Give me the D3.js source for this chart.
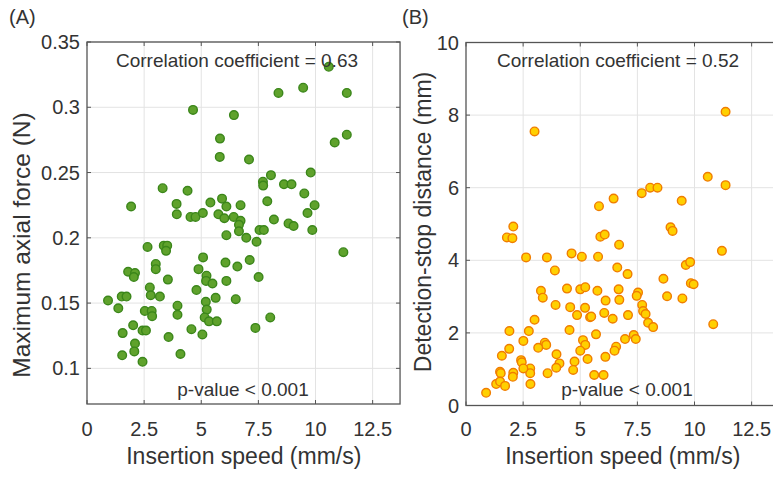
<!DOCTYPE html>
<html lang="en">
<head>
    <meta charset="UTF-8">
    <title>Insertion speed scatter</title>
    <script src="https://d3js.org/d3.v7.min.js"></script>
    <style>
        body { margin: 0; background: #fff; }
        text { font-family: "Liberation Sans", Arial, Helvetica, sans-serif; fill: #333; }
    </style>
</head>
<body>
    <svg id="chart" width="773" height="479"></svg>
    <script>
        // Panel A: insertion speed (mm/s) vs maximum axial force (N)
        var speedA = [10.58, 8.38, 9.46, 11.37, 4.64, 6.43, 5.82, 11.37, 10.84, 5.81, 7.09, 8.05, 9.79, 7.70, 7.71,
            3.31, 4.40, 8.62, 8.95, 9.51, 5.91, 7.89, 1.93, 3.92, 3.93, 4.53, 4.75, 5.07, 5.40, 5.75, 6.01, 6.10,
            6.42, 6.72, 6.72, 6.65, 6.65, 6.10, 6.97, 7.42, 7.55, 7.74, 8.18, 8.82, 9.04, 9.86, 9.65, 9.96, 11.22,
            2.65, 3.36, 3.51, 3.46, 5.08, 6.06, 6.58, 7.12, 3.01, 3.01, 1.80, 2.10, 2.05, 4.88, 5.23, 5.21, 5.49,
            3.54, 6.10, 7.51, 4.79, 2.75, 2.79, 3.19, 1.52, 1.73, 0.92, 1.37, 2.53, 2.83, 2.85, 3.96, 3.96, 5.20,
            5.24, 5.15, 5.34, 5.68, 5.63, 6.51, 8.02, 2.02, 2.43, 2.58, 1.56, 4.57, 5.05, 3.57, 7.37, 2.10, 2.07,
            1.54, 2.43, 4.09];
        var forceA = [0.331, 0.311, 0.315, 0.311, 0.298, 0.294, 0.276, 0.279, 0.273, 0.262, 0.260, 0.248, 0.250, 0.243, 0.240,
            0.238, 0.236, 0.241, 0.241, 0.234, 0.230, 0.228, 0.224, 0.226, 0.218, 0.216, 0.216, 0.219, 0.227, 0.218, 0.215, 0.224,
            0.216, 0.225, 0.213, 0.210, 0.205, 0.202, 0.200, 0.197, 0.206, 0.206, 0.214, 0.211, 0.209, 0.206, 0.219, 0.225, 0.189,
            0.193, 0.194, 0.194, 0.190, 0.185, 0.181, 0.178, 0.183, 0.180, 0.176, 0.174, 0.173, 0.170, 0.176, 0.171, 0.167, 0.165,
            0.168, 0.167, 0.170, 0.160, 0.162, 0.156, 0.155, 0.155, 0.155, 0.152, 0.146, 0.144, 0.144, 0.140, 0.148, 0.141, 0.151,
            0.145, 0.139, 0.136, 0.136, 0.154, 0.153, 0.139, 0.133, 0.129, 0.129, 0.127, 0.130, 0.126, 0.124, 0.131, 0.119, 0.113,
            0.110, 0.105, 0.111];

        // Panel B: insertion speed (mm/s) vs detection-stop distance (mm)
        var speedB = [3.00, 11.36, 10.58, 11.36, 7.69, 8.06, 8.38, 9.44, 6.46, 5.82, 2.07, 8.95, 9.04, 1.79, 2.03, 5.88,
            6.07, 6.70, 11.20, 2.63, 3.54, 4.62, 5.07, 5.78, 3.89, 6.62, 7.07, 9.62, 9.81, 8.64, 9.84, 9.96, 3.28,
            3.36, 4.42, 5.00, 5.22, 5.75, 6.68, 6.71, 7.53, 7.47, 8.80, 9.47, 6.11, 3.92, 4.56, 5.21, 6.05, 7.71,
            7.75, 7.86, 4.86, 5.43, 5.48, 6.42, 7.09, 7.97, 8.19, 10.82, 3.00, 1.90, 2.75, 4.53, 5.69, 7.34, 7.43,
            6.96, 2.51, 5.12, 5.22, 3.45, 3.51, 1.89, 3.16, 5.00, 6.57, 6.50, 1.57, 3.96, 2.41, 2.44, 4.09, 6.10,
            4.75, 5.32, 1.49, 1.52, 2.07, 2.05, 2.81, 2.81, 2.51, 3.95, 4.69, 3.57, 1.32, 1.49, 1.71, 2.82, 5.61,
            6.02, 0.88];
        var distB = [7.55, 8.09, 6.30, 6.07, 5.85, 6.00, 6.00, 5.64, 5.70, 5.49, 4.93, 4.91, 4.81, 4.63, 4.61, 4.65,
            4.71, 4.43, 4.26, 4.08, 4.08, 4.19, 4.10, 4.10, 3.72, 3.80, 3.62, 3.87, 3.95, 3.49, 3.37, 3.34, 3.16,
            2.97, 3.22, 3.20, 3.26, 3.16, 3.20, 2.91, 3.11, 3.02, 3.01, 2.95, 2.89, 2.77, 2.71, 2.69, 2.55, 2.77,
            2.60, 2.52, 2.49, 2.43, 2.45, 2.39, 2.49, 2.28, 2.16, 2.24, 2.36, 2.05, 2.05, 2.08, 1.96, 1.94, 1.83,
            1.83, 1.78, 1.80, 1.67, 1.73, 1.67, 1.56, 1.59, 1.51, 1.62, 1.51, 1.37, 1.41, 1.25, 1.19, 1.16, 1.34,
            1.21, 1.28, 0.93, 0.89, 0.90, 0.79, 1.02, 0.89, 1.02, 1.04, 0.98, 0.89, 0.59, 0.66, 0.54, 0.59, 0.84,
            0.84, 0.35];

        // Tick labels
        var xTicks = [0, 2.5, 5, 7.5, 10, 12.5];
        var yTicksA = [0.1, 0.15, 0.2, 0.25, 0.3, 0.35];
        var yTicksB = [0, 2, 4, 6, 8, 10];

        var svg = d3.select("#chart");

        // Draws one MATLAB-style scatter panel
        function drawPanel(opt) {
            var g = svg.append("g");
            var x = d3.scaleLinear().domain([0, 13.7]).range([opt.left, opt.left + 13.7 * 22.85]);
            var y = d3.scaleLinear().domain(opt.yDomain).range([opt.bottom, opt.top]);
            var x0 = opt.left, x1 = x(13.7), y0 = opt.bottom, y1 = opt.top;

            // grid
            g.selectAll("line.gx").data(xTicks.slice(1)).enter().append("line")
                .attr("x1", function (d) { return x(d); }).attr("x2", function (d) { return x(d); })
                .attr("y1", y0).attr("y2", y1)
                .attr("stroke", "#e3e3e3").attr("stroke-width", 1);
            g.selectAll("line.gy").data(opt.yTicks).enter().append("line")
                .attr("x1", x0).attr("x2", x1)
                .attr("y1", function (d) { return y(d); }).attr("y2", function (d) { return y(d); })
                .attr("stroke", "#e3e3e3").attr("stroke-width", 1);

            // inward ticks on all four sides
            g.selectAll("line.tx").data(xTicks).enter().append("path")
                .attr("d", function (d) {
                    return "M" + x(d) + "," + y0 + "v-4M" + x(d) + "," + y1 + "v4";
                })
                .attr("stroke", "#555");
            g.selectAll("line.ty").data(opt.yTicks).enter().append("path")
                .attr("d", function (d) {
                    return "M" + x0 + "," + y(d) + "h4M" + x1 + "," + y(d) + "h-4";
                })
                .attr("stroke", "#555");

            // points
            g.selectAll("circle").data(opt.xs).enter().append("circle")
                .attr("cx", function (d) { return x(d); })
                .attr("cy", function (d, i) { return y(opt.ys[i]); })
                .attr("r", 4.3)
                .attr("fill", opt.fill)
                .attr("stroke", opt.stroke)
                .attr("stroke-width", 1.4);

            // box
            g.append("rect")
                .attr("x", x0).attr("y", y1)
                .attr("width", x1 - x0).attr("height", y0 - y1)
                .attr("fill", "none").attr("stroke", "#555").attr("stroke-width", 1.3);

            // tick labels
            g.selectAll("text.xl").data(xTicks).enter().append("text")
                .attr("x", function (d) { return x(d); })
                .attr("y", 436)
                .attr("text-anchor", "middle")
                .style("font-size", "20px")
                .text(function (d) { return d; });
            g.selectAll("text.yl").data(opt.yTicks).enter().append("text")
                .attr("x", x0 - 7)
                .attr("y", function (d) { return y(d) + 7; })
                .attr("text-anchor", "end")
                .style("font-size", "20px")
                .text(function (d) { return d; });

            // axis titles
            g.append("text")
                .attr("x", (x0 + x(12.5)) / 2 + 14).attr("y", 464)
                .attr("text-anchor", "middle")
                .style("font-size", "23px")
                .text("Insertion speed (mm/s)");
            g.append("text")
                .attr("transform", "translate(" + opt.titleX + "," + opt.titleY + ") rotate(-90)")
                .attr("text-anchor", "middle")
                .style("font-size", opt.titleSize)
                .text(opt.yTitle);

            // annotations
            g.append("text")
                .attr("x", opt.corrX).attr("y", 67)
                .attr("text-anchor", "middle")
                .style("font-size", "19px")
                .text(opt.corr);
            g.append("text")
                .attr("x", opt.pX).attr("y", 396)
                .attr("text-anchor", "middle")
                .style("font-size", "19px")
                .text("p-value < 0.001");

            // panel label
            g.append("text")
                .attr("x", opt.labelX).attr("y", 24)
                .style("font-size", "20px")
                .text(opt.label);
        }

        drawPanel({
            left: 87, top: 42, bottom: 404,
            yDomain: [0.0727, 0.35], yTicks: yTicksA,
            xs: speedA, ys: forceA,
            fill: "#5fa22c", stroke: "#3b861a",
            yTitle: "Maximum axial force (N)", titleX: 30, titleY: 245, titleSize: "24.5px",
            corr: "Correlation coefficient = 0.63", corrX: 237, pX: 243,
            label: "(A)", labelX: 9
        });

        drawPanel({
            left: 466, top: 42.5, bottom: 405.5,
            yDomain: [0, 10], yTicks: yTicksB,
            xs: speedB, ys: distB,
            fill: "#ffd000", stroke: "#f07d00",
            yTitle: "Detection-stop distance (mm)", titleX: 431, titleY: 222, titleSize: "23px",
            corr: "Correlation coefficient = 0.52", corrX: 618, pX: 627,
            label: "(B)", labelX: 402
        });
    </script>
</body>
</html>
